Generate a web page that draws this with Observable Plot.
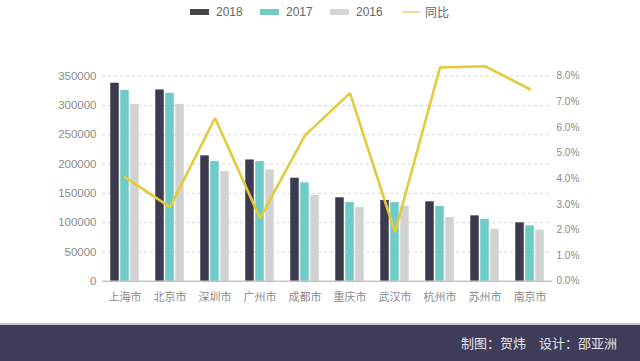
<!DOCTYPE html>
<html><head><meta charset="utf-8">
<script src="https://cdn.jsdelivr.net/npm/d3@7"></script>
<script src="https://cdn.jsdelivr.net/npm/@observablehq/plot@0.6"></script>
<style>
body{margin:0;width:640px;height:361px;overflow:hidden;background:#fff;font-family:"Liberation Sans","Noto Sans CJK SC",sans-serif;position:relative}
#legend{position:absolute;left:0;top:0;width:640px;height:30px}
.item{position:absolute;top:5px;font-size:12px;color:#666;line-height:14px;display:flex;align-items:center;white-space:nowrap}
.sw{display:inline-block;width:19px;height:6px;margin-right:7px}
.ln{display:inline-block;width:18px;height:2px;margin-right:5px}
#chart{position:absolute;left:0;top:30px}
#footer{position:absolute;left:0;top:323px;width:640px;height:38px;background:#3e3c58;border-top:2px solid #c6c6d0;box-sizing:border-box}
#footer span{position:absolute;right:23px;top:10px;font-size:13px;line-height:15px;color:#e4e4ea;font-family:"Noto Sans CJK SC",sans-serif}
</style></head>
<body>
<div id="legend"></div>
<div id="chart"></div>
<div id="footer"><span>制图：贺炜　设计：邵亚洲</span></div>
<script>
const cities = ["上海市","北京市","深圳市","广州市","成都市","重庆市","武汉市","杭州市","苏州市","南京市"];
const v2018 = [338000,326500,214000,207000,175800,142400,137800,135500,111600,99700];
const v2017 = [325500,321000,204300,204300,168000,134300,134300,127500,105800,94600];
const v2016 = [302000,302000,187300,190100,146300,125800,128000,108700,88800,87100];
const yoy = [4.06,2.89,6.37,2.46,5.69,7.34,1.91,8.34,8.39,7.49]; // percent
const leftTicks = [0,50000,100000,150000,200000,250000,300000,350000];
const pctTicks = [0,1,2,3,4,5,6,7,8];
const seriesNames = ["2018","2017","2016","同比"];

const colors = {"2018":"#3b3a4f","2017":"#6ecbc8","2016":"#d2d2d2","同比":"#e4ca3a"};
const legendColors = {"2018":"#454545","2017":"#74c9c1","2016":"#d4d4d4","同比":"#efd89c"};

// legend
const legendX = [190,260,330,402];
const legend = document.getElementById("legend");
seriesNames.forEach((s,i)=>{
  const d = document.createElement("div");
  d.className = "item";
  d.style.left = legendX[i]+"px";
  const sw = document.createElement("span");
  sw.className = s==="同比" ? "ln" : "sw";
  sw.style.background = legendColors[s];
  d.appendChild(sw);
  const t = document.createElement("span");
  t.textContent = s;
  if (s==="同比") t.style.fontFamily = '"Noto Sans CJK SC",sans-serif';
  d.appendChild(t);
  legend.appendChild(d);
});

const k = 350000/8; // right axis: 8% aligned with 350000
const rows = cities.map((c,i)=>({city:c, v2018:v2018[i], v2017:v2017[i], v2016:v2016[i], pct:yoy[i]}));

const bw = 45, w = 8.5, gap = 1.5;
const start = (bw - (3*w + 2*gap))/2;
function inset(j){ const l = start + j*(w+gap); return {insetLeft:l, insetRight:bw - l - w}; }

const chart = Plot.plot({
  width:640, height:293,
  marginLeft:102, marginRight:88, marginTop:45.7, marginBottom:42.3,
  style:{fontFamily:'"Liberation Sans","Noto Sans CJK SC",sans-serif', fontSize:"11px", color:"#8a8a8a", background:"transparent"},
  x:{domain:cities, padding:0, label:null},
  y:{domain:[0,350000], label:null},
  marks:[
    Plot.gridY(leftTicks.slice(1), {stroke:"#d6d6d6", strokeOpacity:1, strokeDasharray:"3,3"}),
    Plot.axisX({tickSize:0, tickPadding:12, fontFamily:'"Noto Sans CJK SC",sans-serif', fontSize:11, label:null}),
    Plot.axisY({ticks:leftTicks, tickSize:0, tickPadding:6, tickFormat:d=>String(d), label:null, fontSize:11.5}),
    Plot.axisY({anchor:"right", ticks:pctTicks.map(p=>p*k), tickFormat:d=>(d/k).toFixed(1)+"%", tickSize:0, tickPadding:4, label:null, fontSize:10}),
    Plot.barY(rows, {x:"city", y:"v2018", fill:colors["2018"], ...inset(0)}),
    Plot.barY(rows, {x:"city", y:"v2017", fill:colors["2017"], ...inset(1)}),
    Plot.barY(rows, {x:"city", y:"v2016", fill:colors["2016"], ...inset(2)}),
    Plot.ruleY([0], {stroke:"#a8a8a8"}),
    Plot.line(rows, {x:"city", y:d=>d.pct*k, stroke:colors["同比"], strokeWidth:2.6, strokeLinejoin:"miter"})
  ]
});
document.getElementById("chart").appendChild(chart);
</script>
</body></html>
